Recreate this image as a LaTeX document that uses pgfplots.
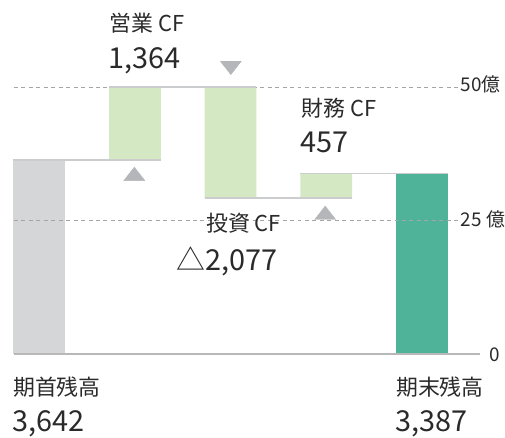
\documentclass[border=0pt]{standalone}
\usepackage{pgfplots}
\pgfplotsset{compat=1.18}
\usepackage{fontspec}
\setmainfont{Noto Sans CJK JP}
\definecolor{gbar}{HTML}{D5D6D8}
\definecolor{lgreen}{HTML}{D4E8C4}
\definecolor{tealbar}{HTML}{4FB39A}
\definecolor{tri}{HTML}{B5B6B9}
\definecolor{conn}{HTML}{CBCCCE}
\definecolor{gridc}{HTML}{A5A5A5}
\definecolor{txt}{HTML}{2A2A2A}
\pgfplotsset{base/.style={
  scale only axis, width=468bp, height=268bp,
  xmin=-0.2653, xmax=4.6046, ymin=0, ymax=50,
  hide axis, clip=false}}
\begin{document}
\begin{tikzpicture}
% bars
\begin{axis}[base, ybar stacked, bar width=52bp]
\addplot [draw=none, fill=none] coordinates {(0,0) (1,36.42) (2,29.29) (3,29.29) (4,0)};
\addplot [draw=none, fill=gbar] coordinates {(0,36.42) (1,0) (2,0) (3,0) (4,0)};
\addplot [draw=none, fill=lgreen] coordinates {(0,0) (1,13.64) (2,20.77) (3,4.57) (4,0)};
\addplot [draw=none, fill=tealbar] coordinates {(0,0) (1,0) (2,0) (3,0) (4,33.87)};
\end{axis}
% lines, grid, triangles, texts
\begin{axis}[base]
\path (axis cs:-0.4110,-15.112) rectangle (axis cs:4.8439,66.418);
\addplot [gridc, line width=0.9bp, dash pattern=on 4bp off 3.5bp] coordinates {(-0.2653,25) (4.3757,25)};
\addplot [gridc, line width=0.9bp, dash pattern=on 4bp off 3.5bp] coordinates {(-0.2653,50) (4.3757,50)};
\addplot [conn, line width=1.5bp] coordinates {(-0.27,36.42) (1.27,36.42)};
\addplot [conn, line width=1.5bp] coordinates {(0.73,50.06) (2.27,50.06)};
\addplot [conn, line width=1.5bp] coordinates {(1.73,29.29) (3.27,29.29)};
\addplot [conn, line width=1.5bp] coordinates {(2.73,33.87) (4.27,33.87)};
\addplot [color=black!28, line width=2bp] coordinates {(-0.2653,0) (4.6046,0)};
\addplot [only marks, mark=triangle*, mark size=9bp, color=tri, mark options={xscale=1.35}] coordinates {(0.994,33.4) (2.99,26.1)};
\addplot [only marks, mark=triangle*, mark size=9bp, color=tri, mark options={xscale=1.35, rotate=180}] coordinates {(2.003,54.1)};
\begin{scope}[every node/.style={inner sep=0pt, text=txt, anchor=base west}]
\node[font=\fontsize{22bp}{24bp}\selectfont] at (axis cs:0.7336,60.448) {営業 CF};
\node[font=\fontsize{29bp}{30bp}\selectfont] at (axis cs:0.7232,53.545) {1,364};
\node[font=\fontsize{22bp}{24bp}\selectfont] at (axis cs:2.7419,44.590) {財務 CF};
\node[font=\fontsize{29bp}{30bp}\selectfont] at (axis cs:2.7315,37.873) {457};
\node[font=\fontsize{22bp}{24bp}\selectfont] at (axis cs:1.7430,22.948) {投資 CF};
\node[font=\fontsize{29bp}{30bp}\selectfont] at (axis cs:1.7326,15.672) {\llap{△}2,077};
\node[font=\fontsize{22bp}{24bp}\selectfont] at (axis cs:-0.2758,-7.649) {期首残高};
\node[font=\fontsize{29bp}{30bp}\selectfont] at (axis cs:-0.2862,-14.552) {3,642};
\node[font=\fontsize{22bp}{24bp}\selectfont] at (axis cs:3.7305,-7.649) {期末残高};
\node[font=\fontsize{29bp}{30bp}\selectfont] at (axis cs:3.7201,-14.552) {3,387};
\node[font=\fontsize{19bp}{20bp}\selectfont] at (axis cs:4.4069,49.254) {50億};
\node[font=\fontsize{19bp}{20bp}\selectfont] at (axis cs:4.4069,23.881) {25 億};
\node[font=\fontsize{19bp}{20bp}\selectfont] at (axis cs:4.7081,-1.306) {0};
\end{scope}
\end{axis}
\end{tikzpicture}
\end{document}
